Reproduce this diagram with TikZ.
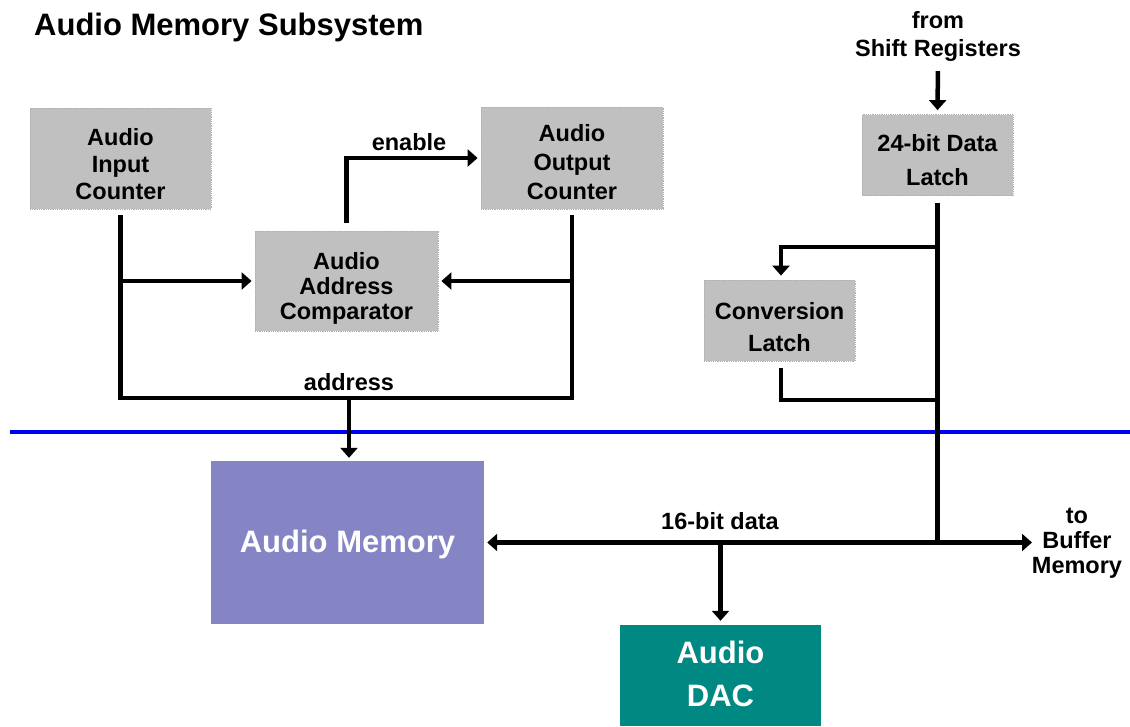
\documentclass[tikz,border=0pt]{standalone}
\usepackage{fontspec}
\setmainfont{Liberation Sans}
\usetikzlibrary{arrows.meta}
\definecolor{boxgray}{HTML}{C0C0C0}
\definecolor{boxedge}{HTML}{B0B0B0}
\definecolor{mempurple}{HTML}{8585C6}
\definecolor{dacteal}{HTML}{008882}
\definecolor{divblue}{HTML}{0000F0}
\tikzset{
  unit/.style={fill=boxgray, draw=boxedge, densely dotted, line width=0.8pt, inner sep=0pt},
  utext/.style={inner sep=0pt, align=center, text=black},
  bigbox/.style={inner sep=0pt},
  bigtext/.style={inner sep=0pt, align=center, text=white,
    font=\fontsize{31}{43}\selectfont\bfseries},
  lbl/.style={inner sep=0pt, align=center, font=\fontsize{23.5}{25}\selectfont\bfseries},
  bus/.style={line width=4.5pt, line cap=butt, line join=miter},
  tip/.tip={Triangle[length=10pt,width=17pt]},
  arr/.style={bus, -tip},
  arrboth/.style={bus, tip-tip}
}
\begin{document}
\begin{tikzpicture}[x=1pt,y=-1pt]
\useasboundingbox (0,0) rectangle (1130,726);

% heading
\node[anchor=base west, inner sep=0pt, font=\fontsize{31}{35}\selectfont\bfseries]
  (title) at (34,35) {Audio Memory Subsystem};

% counters and comparator
\node[unit, minimum width=181pt, minimum height=101pt,
  label={[utext, yshift=-5.5pt, font=\fontsize{23.5}{27}\selectfont\bfseries]center:{Audio\\Input\\Counter}}]
  (inc) at (120.5,158.5) {};
\node[unit, minimum width=182pt, minimum height=102pt,
  label={[utext, yshift=-4pt, font=\fontsize{23.5}{29}\selectfont\bfseries]center:{Audio\\Output\\Counter}}]
  (outc) at (572,158) {};
\node[unit, minimum width=183pt, minimum height=100pt,
  label={[utext, yshift=-7pt, font=\fontsize{23.5}{25}\selectfont\bfseries]center:{Audio\\Address\\Comparator}}]
  (cmp) at (346.5,281) {};

% data latches
\node[unit, minimum width=151pt, minimum height=81pt,
  label={[utext, yshift=-5pt, font=\fontsize{23.5}{34}\selectfont\bfseries]center:{24-bit Data\\Latch}}]
  (lat) at (937.5,155) {};
\node[unit, minimum width=151pt, minimum height=81pt,
  label={[utext, yshift=-7pt, font=\fontsize{23.5}{32}\selectfont\bfseries]center:{Conversion\\Latch}}]
  (conv) at (779.5,320.5) {};

% memory and converter
\node[bigbox, fill=mempurple, minimum width=273pt, minimum height=163pt,
  label={[bigtext, yshift=-2pt]center:{Audio Memory}}]
  (mem) at (347.5,542.5) {};
\node[bigbox, fill=dacteal, minimum width=201pt, minimum height=101pt,
  label={[bigtext, yshift=1.5pt]center:{Audio\\DAC}}]
  (dac) at (720.5,675.5) {};

% free texts
\node[lbl, font=\fontsize{23.5}{28}\selectfont\bfseries] (src) at (938,36)
  {from\\Shift Registers};
\node[lbl, font=\fontsize{23.5}{25}\selectfont\bfseries] (buftxt) at (1077,543)
  {to\\Buffer\\Memory};
\node[lbl] (enlbl) at (409,142) {enable};
\node[lbl] (addrlbl) at (349,382) {address};
\node[lbl] (datalbl) at (720,521) {16-bit data};

% bus levels and the open end of the data bus
\coordinate (abus) at (0,398);
\coordinate (br) at (0,247);
\coordinate (cb) at (0,400);
\coordinate (dbus) at (0,542.5);
\coordinate (bufend) at (1032,542.5);

% boundary line
\draw[divblue, line width=3.5pt] (10,432) -- (1130,432);

% address bus
\draw[bus, shorten <=6pt, shorten >=6pt]
  (inc.south) -- (inc.south |- abus) -- (outc.south |- abus) -- (outc.south);
\draw[arr, shorten >=3pt] (inc.south |- cmp.west) -- (cmp.west);
\draw[arr, shorten >=3pt] (outc.south |- cmp.east) -- (cmp.east);
\draw[arr, shorten <=8pt, shorten >=3pt] (cmp.north) |- (outc.west);
\draw[arr, shorten >=3pt] (mem.north |- abus) ++(1.5,0) coordinate (adrop)
  -- (adrop |- mem.north);

% data path
\draw[arr, shorten <=10pt, shorten >=4pt] (src.south) -- (lat.north);
\draw[bus, shorten <=7pt] (lat.south) -- (lat.south |- dbus);
\draw[arr, shorten >=4pt] (lat.south |- br) -| ([xshift=1.5pt]conv.north);
\draw[bus, shorten <=7pt] ([xshift=1.5pt]conv.south) |- ([xshift=2pt]lat.south |- cb);
\draw[arrboth, shorten <=3pt] (mem.east) -- (bufend);
\draw[arr, shorten >=4pt] (dac.north |- dbus) -- (dac.north);
\end{tikzpicture}
\end{document}
